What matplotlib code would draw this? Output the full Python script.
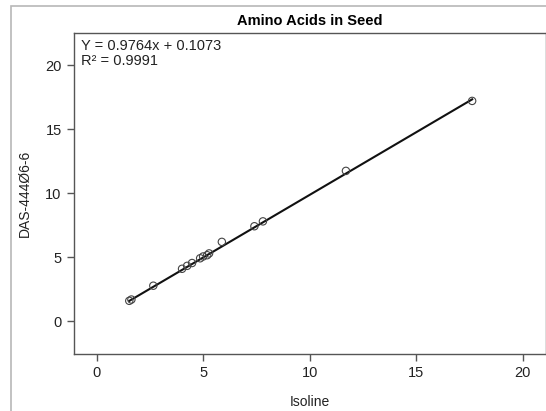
import matplotlib
matplotlib.use("Agg")
import matplotlib.pyplot as plt
from matplotlib.patches import Rectangle
import numpy as np

plt.rcParams['font.family'] = ['Liberation Sans', 'DejaVu Sans']

isoline = [1.52, 1.62, 2.65, 4.0, 4.24, 4.47, 4.85, 4.99, 5.18, 5.27, 5.87, 7.4, 7.8, 11.7, 17.63]
das = [1.60, 1.70, 2.78, 4.10, 4.33, 4.55, 4.92, 5.06, 5.16, 5.30, 6.20, 7.42, 7.80, 11.74, 17.2]
slope, intercept = 0.9764, 0.1073
xticks = [0, 5, 10, 15, 20]
yticks = [0, 5, 10, 15, 20]

fig = plt.figure(figsize=(5.46, 4.11), dpi=100)
ax = fig.add_axes([73.5/546, 1-354/411, (546-73.5)/546, (354-33)/411])

# figure border (cropped)
fig.patches.append(Rectangle((11/546, -0.05), 1.2, 1-6/411+0.05, transform=fig.transFigure,
                             fill=False, edgecolor='#b8b8b8', linewidth=1.2, zorder=0))

x = np.array(isoline)
xs = np.array([x.min(), x.max()])
ax.plot(xs, slope*xs + intercept, color='#111111', linewidth=1.5, zorder=2)
ax.scatter(isoline, das, s=28, facecolors='none', edgecolors='#444444', linewidths=0.8, zorder=3)

ax.set_xlim(-1.1, 21.1)
ax.set_ylim(-2.55, 22.5)
ax.set_xticks(xticks)
ax.set_yticks(yticks)
for s in ax.spines.values():
    s.set_color('#555555')
    s.set_linewidth(1.0)
ax.tick_params(colors='#555555', labelcolor='#222222', labelsize=10.5, length=5, width=1)

ax.set_title('Amino Acids in Seed', fontsize=10.5, fontweight='bold', pad=6)
ax.set_xlabel('Isoline', fontsize=10, color='#222222', labelpad=11)
ax.set_ylabel('DAS-444Ø6-6', fontsize=10, color='#222222', labelpad=10)

ax.text(0.016, 0.982, 'Y = 0.9764x + 0.1073\nR² = 0.9991', transform=ax.transAxes,
        ha='left', va='top', fontsize=10.5, color='#222222', linespacing=1.15)

fig.savefig('out.png', dpi=100)
